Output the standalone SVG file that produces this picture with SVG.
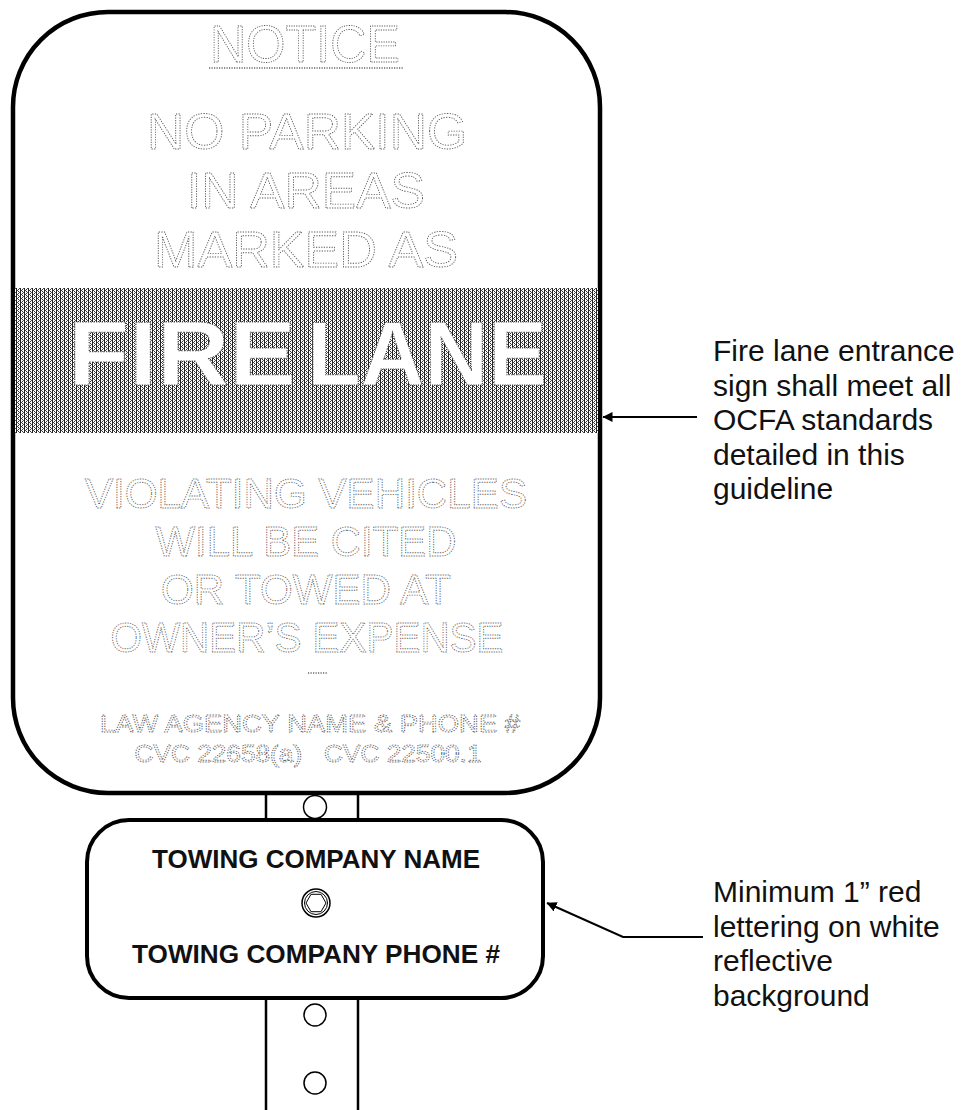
<svg xmlns="http://www.w3.org/2000/svg" width="963" height="1110" viewBox="0 0 963 1110">
<style>
.ht{font-family:"Liberation Sans",Arial,sans-serif;fill:#fff;stroke:#5a5a5a;stroke-width:0.9;stroke-dasharray:1.2 1.3;text-anchor:middle}
.fl{font-family:"Liberation Sans",Arial,sans-serif;font-weight:bold;font-size:91px;fill:#fff;stroke:#444;stroke-width:1;stroke-dasharray:1.2 1.3}
.htl{stroke:#666;stroke-width:1.4;stroke-dasharray:1.2 1.3;fill:none}
.ann{font-family:"Liberation Sans",Arial,sans-serif;font-size:30px;fill:#111}
.tow{font-family:"Liberation Sans",Arial,sans-serif;font-size:26px;font-weight:bold;fill:#111;text-anchor:middle}
.edge{fill:#fff;stroke:#000;stroke-width:4.5}
.pole{stroke:#000;stroke-width:2.5;fill:none}
.hole{fill:#fff;stroke:#000;stroke-width:1.5}
.conn{stroke:#000;stroke-width:2;fill:none}
</style>
<defs>
<pattern id="dither" width="4" height="4" patternUnits="userSpaceOnUse">
<rect width="4" height="4" fill="#fff"/>
<rect x="0" y="0" width="1" height="4" fill="#222"/>
<rect x="2" y="1" width="1" height="1" fill="#333"/>
<rect x="2" y="3" width="1" height="1" fill="#333"/>
<rect x="1" y="2" width="1" height="1" fill="#444"/>
<rect x="3" y="0" width="1" height="1" fill="#555"/>
</pattern>
<marker id="arr" viewBox="0 0 10 10" refX="9.5" refY="5" markerWidth="5" markerHeight="5" orient="auto" markerUnits="strokeWidth">
<path d="M0,0 L10,5 L0,10 Z" fill="#000"/>
</marker>
</defs>
<rect width="963" height="1110" fill="#fff"/>

<g id="pole">
<line class="pole" x1="266" y1="790" x2="266" y2="822"/>
<line class="pole" x1="358" y1="790" x2="358" y2="822"/>
<circle class="hole" cx="315" cy="807" r="11.5"/>
<line class="pole" x1="266" y1="996" x2="266" y2="1110"/>
<line class="pole" x1="358" y1="996" x2="358" y2="1110"/>
<circle class="hole" cx="315" cy="1015" r="11"/>
<circle class="hole" cx="315" cy="1083" r="11"/>
</g>

<g id="sign-main">
<rect class="edge" x="13" y="12" width="587" height="781" rx="95" ry="95"/>
<rect x="15" y="288" width="583" height="145" fill="url(#dither)"/>
<text class="ht" x="305" y="62" font-size="52" textLength="190" lengthAdjust="spacingAndGlyphs">NOTICE</text>
<line class="htl" x1="209" y1="68" x2="403" y2="68"/>
<text class="ht" x="307" y="149" font-size="50" textLength="320" lengthAdjust="spacingAndGlyphs">NO PARKING</text>
<text class="ht" x="306" y="208" font-size="50" textLength="238" lengthAdjust="spacingAndGlyphs">IN AREAS</text>
<text class="ht" x="306" y="267" font-size="50" textLength="304" lengthAdjust="spacingAndGlyphs">MARKED AS</text>
<text class="fl" x="68" y="385" textLength="228" lengthAdjust="spacingAndGlyphs">FIRE</text>
<text class="fl" x="307" y="385" textLength="240" lengthAdjust="spacingAndGlyphs">LANE</text>
<text class="ht" x="306" y="508" font-size="42" textLength="442" lengthAdjust="spacingAndGlyphs">VIOLATING VEHICLES</text>
<text class="ht" x="306" y="556" font-size="42" textLength="301" lengthAdjust="spacingAndGlyphs">WILL BE CITED</text>
<text class="ht" x="306" y="604" font-size="42" textLength="290" lengthAdjust="spacingAndGlyphs">OR TOWED AT</text>
<text class="ht" x="307" y="652" font-size="42" textLength="393" lengthAdjust="spacingAndGlyphs">OWNER’S EXPENSE</text>
<line class="htl" x1="308" y1="673" x2="327" y2="673"/>
<text class="ht" x="310" y="732" font-size="24" textLength="420" lengthAdjust="spacingAndGlyphs">LAW AGENCY NAME &amp; PHONE #</text>
<text class="ht" x="308" y="762" font-size="24" textLength="347" lengthAdjust="spacingAndGlyphs" xml:space="preserve">CVC 22658(a)   CVC 22500.1</text>
</g>

<g id="sign-towing">
<rect class="edge" x="87" y="820" width="456" height="178" rx="42" ry="42" style="stroke-width:4"/>
<text class="tow" x="316" y="868" textLength="328" lengthAdjust="spacingAndGlyphs">TOWING COMPANY NAME</text>
<circle cx="316" cy="903" r="14" fill="#fff" stroke="#000" stroke-width="1.5"/>
<circle cx="316" cy="903" r="11.5" fill="none" stroke="#000" stroke-width="1"/>
<polygon points="326,903 321,911.7 311,911.7 306,903 311,894.3 321,894.3" fill="none" stroke="#000" stroke-width="1"/>
<text class="tow" x="316" y="963" textLength="368" lengthAdjust="spacingAndGlyphs">TOWING COMPANY PHONE #</text>
</g>

<g id="connectors">
<line class="conn" x1="697" y1="417" x2="603" y2="417" marker-end="url(#arr)"/>
<polyline class="conn" points="703,937 623,937 547,903" marker-end="url(#arr)"/>
</g>

<g id="annotation-fire-lane">
<text class="ann" x="713" y="361">Fire lane entrance</text>
<text class="ann" x="713" y="395.5">sign shall meet all</text>
<text class="ann" x="713" y="430">OCFA standards</text>
<text class="ann" x="713" y="464.5">detailed in this</text>
<text class="ann" x="713" y="499">guideline</text>
</g>

<g id="annotation-towing">
<text class="ann" x="713" y="902">Minimum 1” red</text>
<text class="ann" x="713" y="936.5">lettering on white</text>
<text class="ann" x="713" y="971">reflective</text>
<text class="ann" x="713" y="1005.5">background</text>
</g>
</svg>
